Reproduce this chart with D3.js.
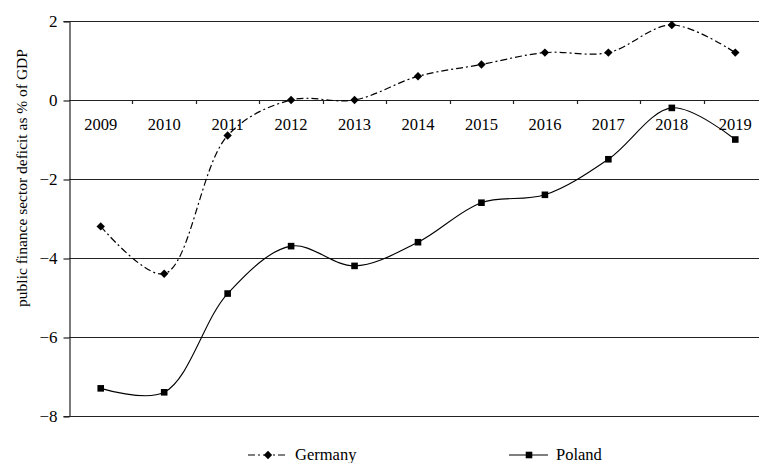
<!DOCTYPE html>
<html>
<head>
<meta charset="utf-8">
<script src="https://cdn.jsdelivr.net/npm/d3@7"></script>
<style>
  body { margin: 0; background: #fff; }
  svg { display: block; }
  svg text { font-family: "Liberation Serif", "Times New Roman", serif !important; fill: #000; }
</style>
</head>
<body>
<div id="chart"></div>
<script>
const years = ["2009", "2010", "2011", "2012", "2013", "2014", "2015", "2016", "2017", "2018", "2019"];
const germany = [-3.2, -4.4, -0.9, 0.0, 0.0, 0.6, 0.9, 1.2, 1.2, 1.9, 1.2];
const poland = [-7.3, -7.4, -4.9, -3.7, -4.2, -3.6, -2.6, -2.4, -1.5, -0.2, -1.0];
const yTicks = [2, 0, -2, -4, -6, -8];

const width = 759;
const height = 463;
const margin = { top: 21, left: 69, bottom: 47 };
// the plot runs past the right edge of the picture (cropped)
const plotRight = 767;

const svg = d3.select("#chart")
  .append("svg")
  .attr("width", width)
  .attr("height", height);

const x = d3.scaleBand()
  .domain(years)
  .range([margin.left, plotRight]);

const y = d3.scaleLinear()
  .domain([-8, 2])
  .range([height - margin.bottom, margin.top]);

const cx = (d, i) => x(years[i]) + x.bandwidth() / 2;
const snap = (v) => Math.round(v) + 0.5;

// gridlines
svg.append("g")
  .selectAll("line")
  .data(yTicks)
  .enter()
  .append("line")
  .attr("x1", margin.left)
  .attr("x2", plotRight)
  .attr("y1", (d) => snap(y(d)))
  .attr("y2", (d) => snap(y(d)))
  .attr("stroke", "#222")
  .attr("stroke-width", 1.2);

// y axis
const yAxis = d3.axisLeft(y)
  .tickValues(yTicks)
  .tickSize(6)
  .tickPadding(6)
  .tickFormat((d) => (d < 0 ? "\u2212" + Math.abs(d) : d));

svg.append("g")
  .attr("transform", `translate(${margin.left + 0.5}, 0)`)
  .call(yAxis)
  .call((g) => g.select(".domain").attr("stroke", "#222").attr("stroke-width", 1.2))
  .call((g) => g.selectAll(".tick line").attr("stroke", "#222").attr("stroke-width", 1.2)
    .attr("transform", (d) => `translate(0, ${snap(y(d)) - y(d)})`))
  .call((g) => g.selectAll("text").attr("font-size", 17));

// category ticks hanging from the zero line
const boundaries = years.slice(1).map((yr) => x(yr));
svg.append("g")
  .selectAll("line")
  .data(boundaries)
  .enter()
  .append("line")
  .attr("x1", (d) => snap(d))
  .attr("x2", (d) => snap(d))
  .attr("y1", Math.round(y(0)))
  .attr("y2", Math.round(y(0)) + 4)
  .attr("stroke", "#222")
  .attr("stroke-width", 1.2);

// category labels
svg.append("g")
  .selectAll("text")
  .data(years)
  .enter()
  .append("text")
  .attr("x", (d) => x(d) + x.bandwidth() / 2)
  .attr("y", y(0) + 30)
  .attr("text-anchor", "middle")
  .attr("font-size", 16.5)
  .text((d) => d);

// y title
svg.append("text")
  .attr("transform", "translate(27, 178) rotate(-90)")
  .attr("text-anchor", "middle")
  .attr("font-size", 15.5)
  .text("public finance sector deficit as % of GDP");

const line = d3.line()
  .x(cx)
  .y((d) => y(d))
  .curve(d3.curveCatmullRom.alpha(0.5));

const diamond = "M0,-4.2L4.2,0L0,4.2L-4.2,0Z";
const square = "M-3.3,-3.3H3.3V3.3H-3.3Z";

// Germany
svg.append("path")
  .datum(germany)
  .attr("d", line)
  .attr("fill", "none")
  .attr("stroke", "#000")
  .attr("stroke-width", 1.2)
  .attr("stroke-dasharray", "7,3,2,3");

svg.append("g")
  .selectAll("path")
  .data(germany)
  .enter()
  .append("path")
  .attr("d", diamond)
  .attr("transform", (d, i) => `translate(${cx(d, i)}, ${y(d)})`)
  .attr("fill", "#000");

// Poland
svg.append("path")
  .datum(poland)
  .attr("d", line)
  .attr("fill", "none")
  .attr("stroke", "#000")
  .attr("stroke-width", 1.1);

svg.append("g")
  .selectAll("path")
  .data(poland)
  .enter()
  .append("path")
  .attr("d", square)
  .attr("transform", (d, i) => `translate(${cx(d, i)}, ${y(d)})`)
  .attr("fill", "#000");

// legend
const legendY = 455;
const legendItems = [
  { name: "Germany", x0: 248, dash: "7,3,2,3", symbol: diamond },
  { name: "Poland", x0: 509, dash: null, symbol: square },
];

const legend = svg.append("g")
  .selectAll("g")
  .data(legendItems)
  .enter()
  .append("g")
  .attr("transform", (d) => `translate(${d.x0}, ${legendY})`);

legend.append("line")
  .attr("x1", 0)
  .attr("x2", 39)
  .attr("y1", 0)
  .attr("y2", 0)
  .attr("stroke", "#000")
  .attr("stroke-width", 1.2)
  .attr("stroke-dasharray", (d) => d.dash);

legend.append("path")
  .attr("d", (d) => d.symbol)
  .attr("transform", "translate(20, 0)")
  .attr("fill", "#000");

legend.append("text")
  .attr("x", 47)
  .attr("y", 5)
  .attr("font-size", 16.5)
  .text((d) => d.name);
</script>
</body>
</html>
